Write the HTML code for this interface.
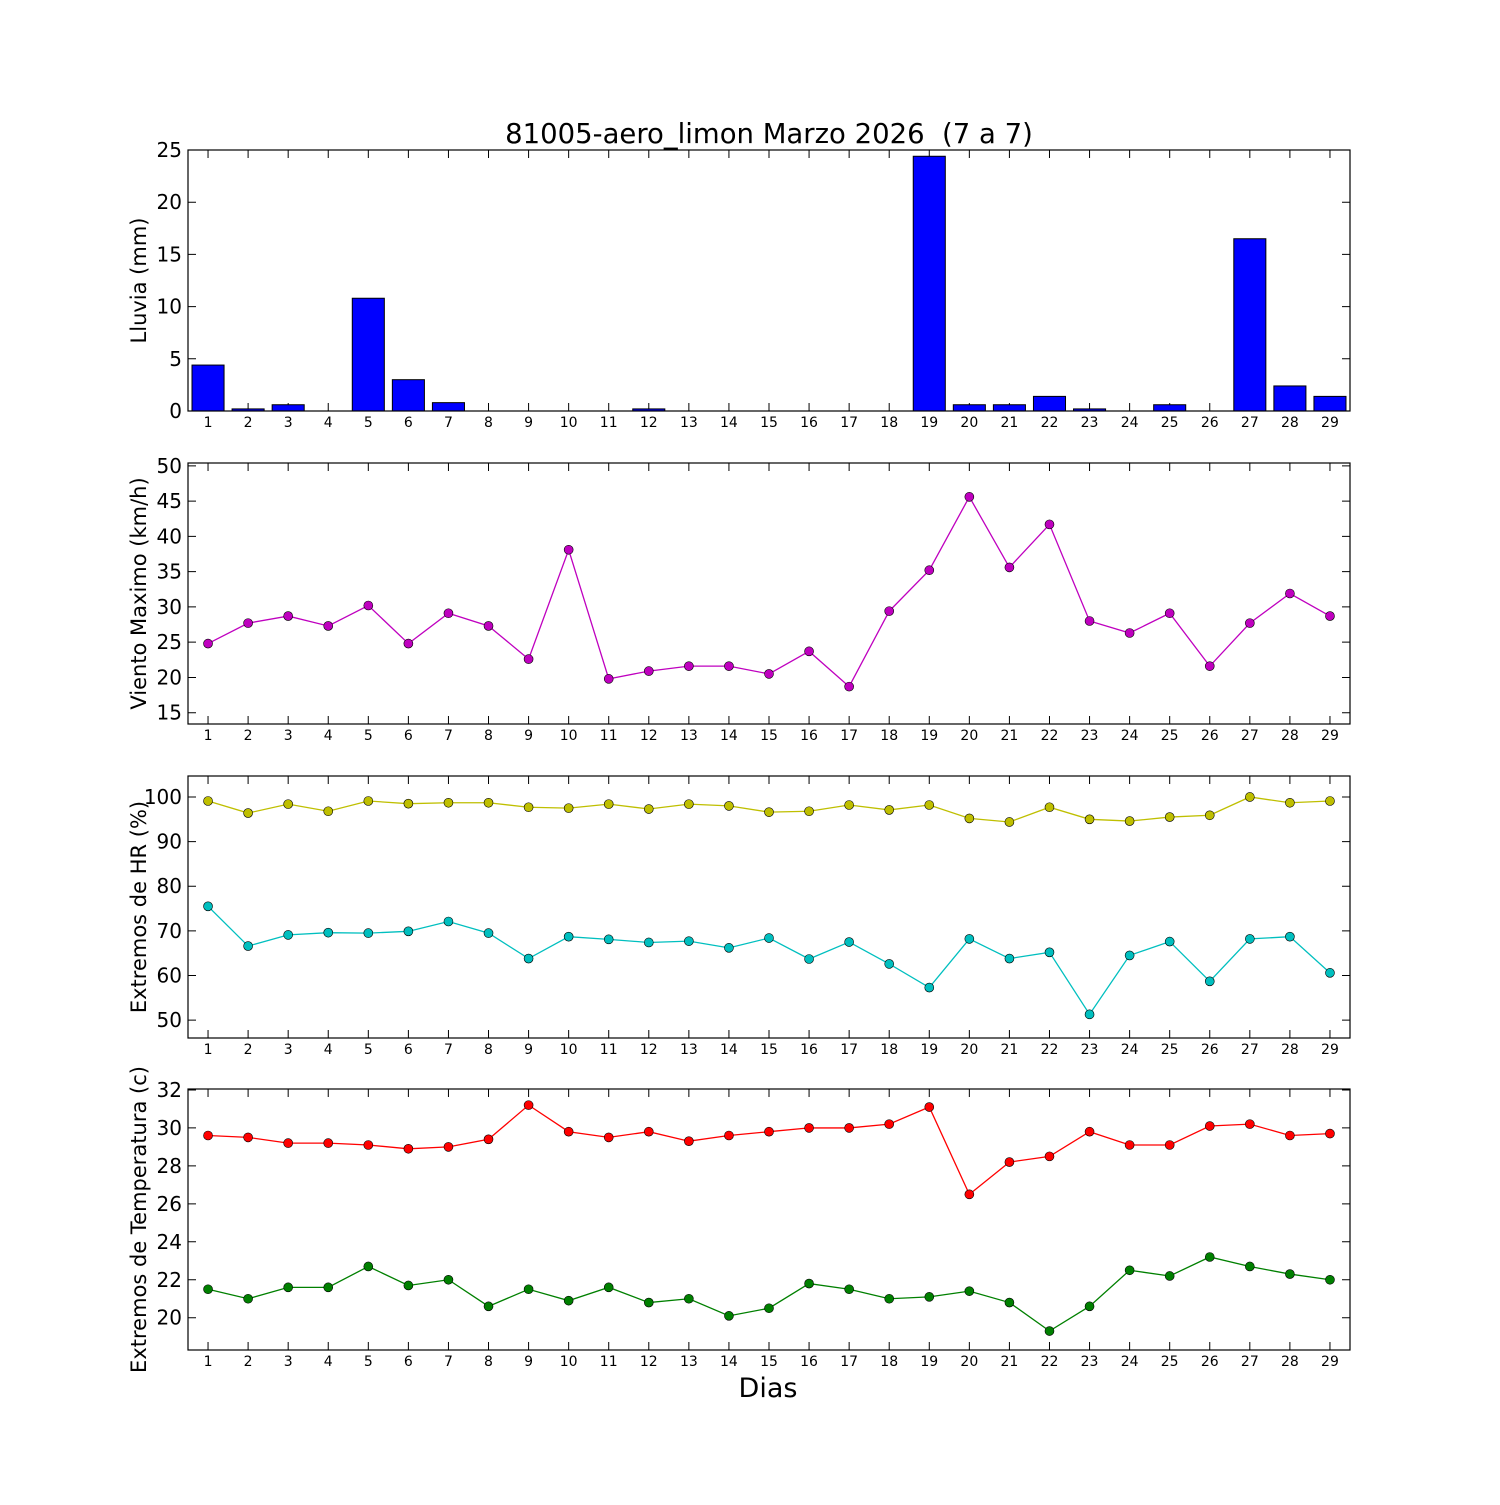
<!DOCTYPE html>
<html><head><meta charset="utf-8"><style>
html,body{margin:0;padding:0;background:#fff;}
svg text{font-family:"DejaVu Sans","Liberation Sans",sans-serif;}
</style></head><body>
<svg id="chart" width="1500" height="1500" viewBox="0 0 1500 1500" xmlns="http://www.w3.org/2000/svg">
<rect width="1500" height="1500" fill="#fff"/>
<text x="769" y="143" font-size="27.5" text-anchor="middle" xml:space="preserve">81005-aero_limon Marzo 2026  (7 a 7)</text>
<text x="768" y="1397" font-size="27" text-anchor="middle">Dias</text>
</svg>
<script>
const days = [1,2,3,4,5,6,7,8,9,10,11,12,13,14,15,16,17,18,19,20,21,22,23,24,25,26,27,28,29];
const rain = [4.4,0.2,0.6,0,10.8,3.0,0.8,0,0,0,0,0.2,0,0,0,0,0,0,24.4,0.6,0.6,1.4,0.2,0,0.6,0,16.5,2.4,1.4];
const wind = [24.8,27.7,28.7,27.3,30.2,24.8,29.1,27.3,22.6,38.1,19.8,20.9,21.6,21.6,20.5,23.7,18.7,29.4,35.2,45.6,35.6,41.7,28.0,26.3,29.1,21.6,27.7,31.9,28.7];
const hrMax = [99.1,96.4,98.4,96.8,99.1,98.5,98.7,98.7,97.7,97.5,98.4,97.3,98.4,98.0,96.6,96.8,98.2,97.1,98.2,95.2,94.4,97.7,95.0,94.6,95.5,95.9,100,98.7,99.1];
const hrMin = [75.5,66.6,69.1,69.6,69.5,69.9,72.1,69.5,63.8,68.7,68.1,67.4,67.7,66.2,68.4,63.7,67.5,62.6,57.3,68.2,63.8,65.2,51.3,64.5,67.6,58.7,68.2,68.7,60.6];
const tMax = [29.6,29.5,29.2,29.2,29.1,28.9,29.0,29.4,31.2,29.8,29.5,29.8,29.3,29.6,29.8,30.0,30.0,30.2,31.1,26.5,28.2,28.5,29.8,29.1,29.1,30.1,30.2,29.6,29.7];
const tMin = [21.5,21.0,21.6,21.6,22.7,21.7,22.0,20.6,21.5,20.9,21.6,20.8,21.0,20.1,20.5,21.8,21.5,21.0,21.1,21.4,20.8,19.3,20.6,22.5,22.2,23.2,22.7,22.3,22.0];
const rainTicks = [0,5,10,15,20,25];
const windTicks = [15,20,25,30,35,40,45,50];
const hrTicks = [50,60,70,80,90,100];
const tTicks = [20,22,24,26,28,30,32];

const NS = "http://www.w3.org/2000/svg";
const svg = document.getElementById('chart');
function mk(tag, attrs, parent){const e=document.createElementNS(NS,tag);for(const k in attrs)e.setAttribute(k,attrs[k]);(parent||svg).appendChild(e);return e;}
const L=188,R=1350;
function xs(d){return L+(d-0.5)*(R-L)/29;}

function panel(name, top, bottom, ymin, ymax, ticks, label){
  const g=mk('g',{});
  
  
  const ys=v=>bottom-(v-ymin)*(bottom-top)/(ymax-ymin);
  ticks.forEach(t=>{
    const y=ys(t);
    const ln=mk('path',{d:`M${L} ${y}H${L+8}M${R} ${y}H${R-8}`,stroke:'#000','stroke-width':1},g);
    
    
    const tx=mk('text',{x:L-6,y:y+7,'font-size':20,'text-anchor':'end'},g);
    
    
    tx.textContent=t;
  });
  days.forEach(d=>{
    const x=xs(d);
    const ln=mk('path',{d:`M${x} ${bottom}V${bottom-8}M${x} ${top}V${top+8}`,stroke:'#000','stroke-width':1},g);
    
    
    const tx=mk('text',{x:x,y:bottom+16,'font-size':14,'text-anchor':'middle'},g);
    
    
    tx.textContent=d;
  });
  const cy=(top+bottom)/2;
  const yl=mk('text',{x:0,y:0,'font-size':21,'text-anchor':'middle',transform:`translate(146 ${cy}) rotate(-90)`},g);
  
  
  yl.textContent=label;
  return {g,ys,top,bottom};
}
function frame(p,name){
  const r=mk('rect',{x:L,y:p.top,width:R-L,height:p.bottom-p.top,fill:'none',stroke:'#000','stroke-width':1.2},p.g);
  
  
}
function series(p, vals, color, name){
  const pts=vals.map((v,i)=>xs(days[i])+','+p.ys(v)).join(' ');
  const pl=mk('polyline',{points:pts,fill:'none',stroke:color,'stroke-width':1.3},p.g);
  
  
  vals.forEach((v,i)=>{
    const c=mk('circle',{cx:xs(days[i]),cy:p.ys(v),r:4.5,fill:color,stroke:'#000','stroke-width':0.6},p.g);
    
    
  });
}

const p1=panel('rain',150,411,0,25,rainTicks,'Lluvia (mm)');
rain.forEach((v,i)=>{
  const w=0.8*(R-L)/29, x=xs(days[i])-w/2, y=p1.ys(v);
  const b=mk('rect',{x:x,y:y,width:w,height:p1.ys(0)-y,fill:'#0000ff',stroke:'#000','stroke-width':1},p1.g);
  
  
});
frame(p1,'rain');

const p2=panel('wind',463,724,13.4,50.4,windTicks,'Viento Maximo (km/h)');
series(p2,wind,'#bf00bf','wind-max');
frame(p2,'wind');

const p3=panel('humidity',776,1038,46.0,104.7,hrTicks,'Extremos de HR (%)');
series(p3,hrMax,'#bfbf00','humidity-max');
series(p3,hrMin,'#00bfbf','humidity-min');
frame(p3,'humidity');

const p4=panel('temperature',1089,1350,18.3,32.05,tTicks,'Extremos de Temperatura (c)');
series(p4,tMax,'#ff0000','temperature-max');
series(p4,tMin,'#008000','temperature-min');
frame(p4,'temperature');
</script>
</body></html>
